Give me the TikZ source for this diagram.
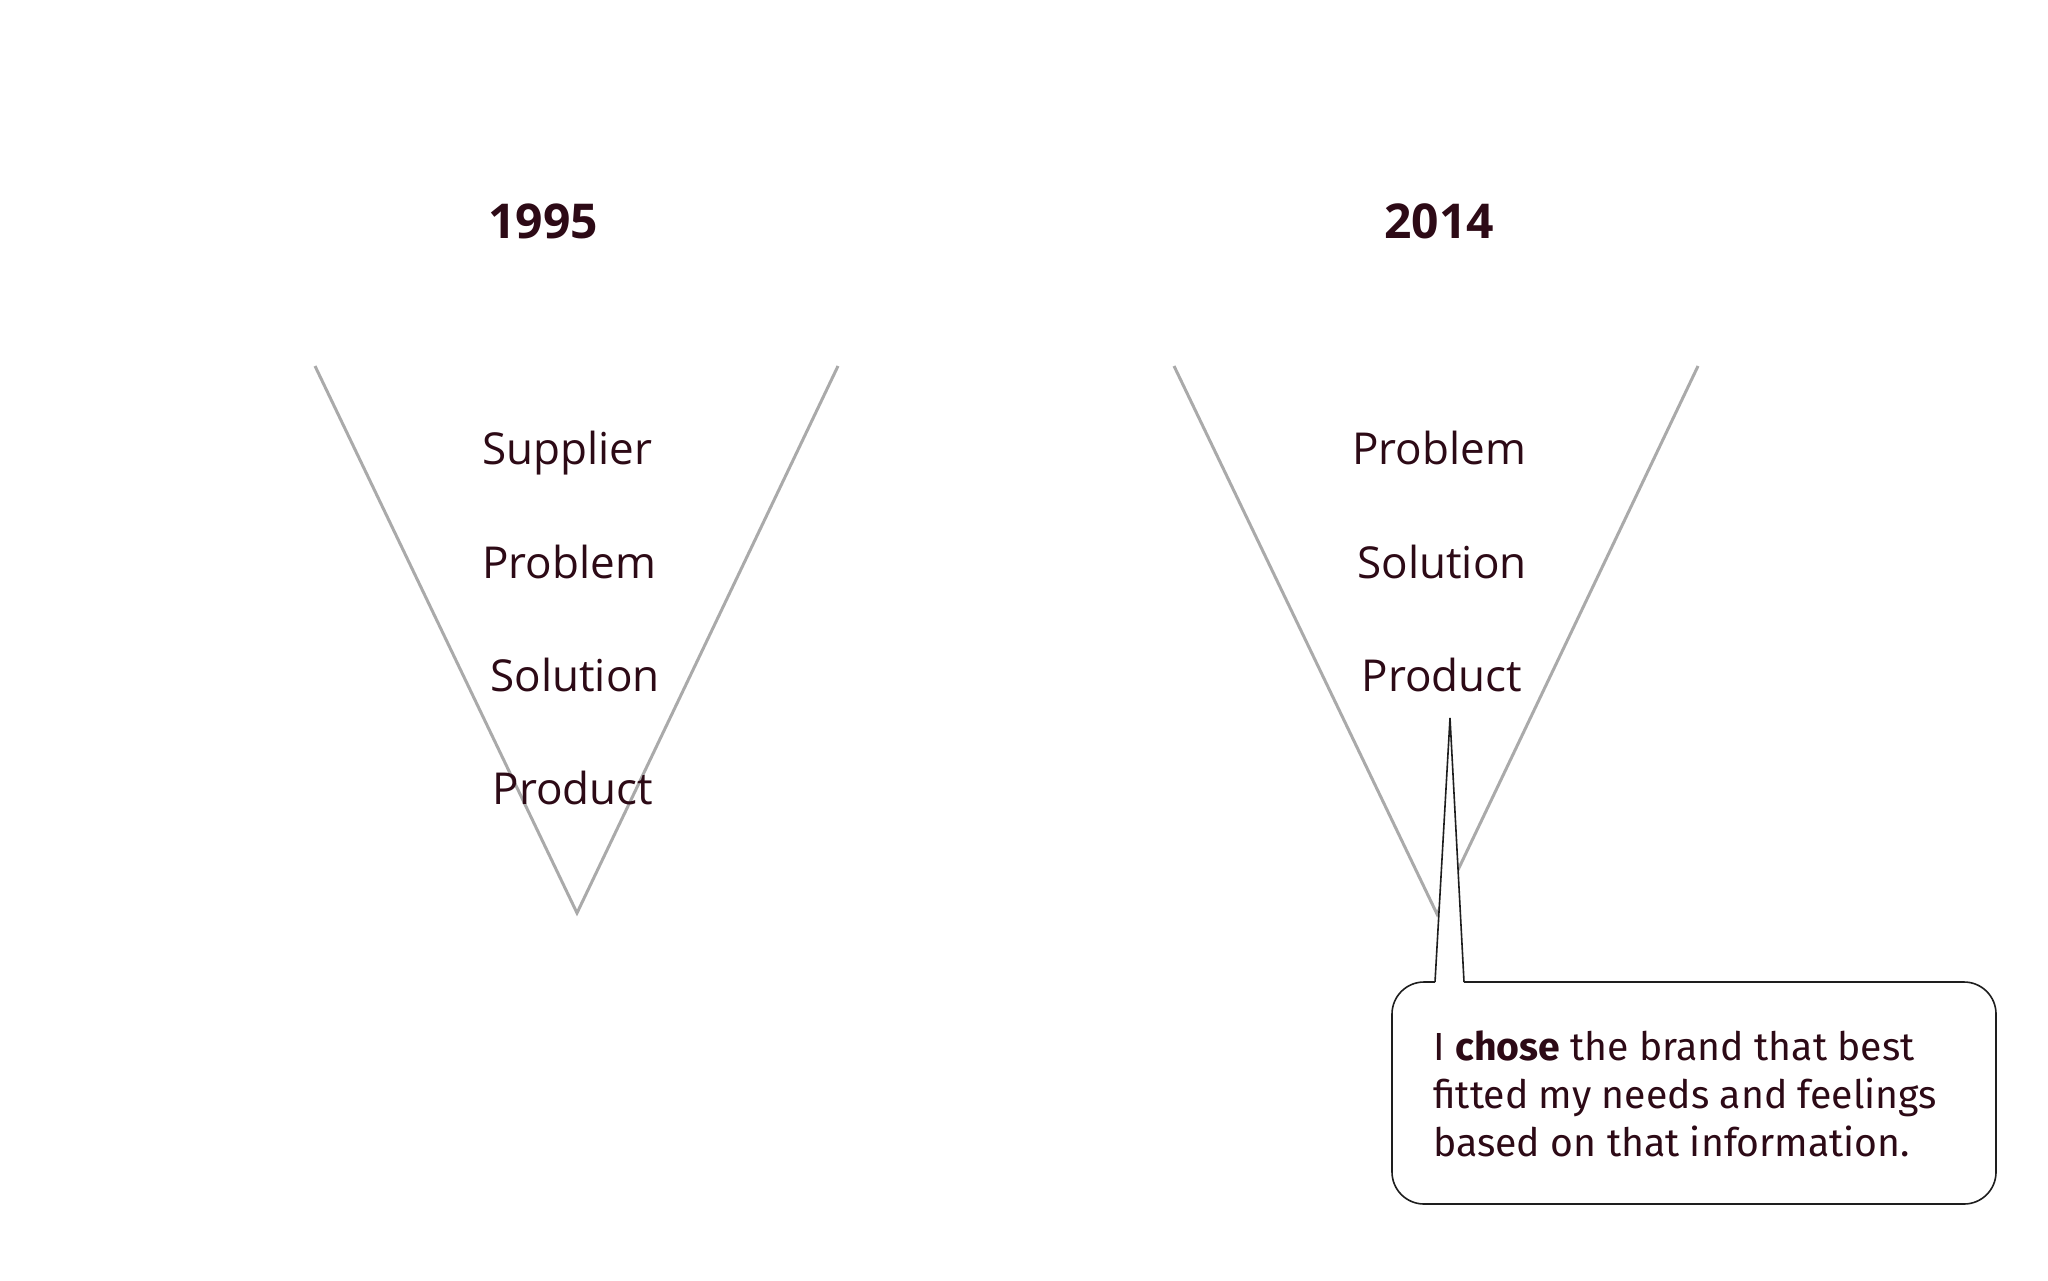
\documentclass[tikz,border=0pt]{standalone}
\usepackage{fontspec}
\setmainfont{Open Sans}
\newfontfamily\callfont{Fira Sans}
\definecolor{ink}{RGB}{45,10,22}
\definecolor{vgrey}{RGB}{170,170,170}
\definecolor{edge}{RGB}{30,30,30}
\begin{document}
\begin{tikzpicture}[x=0.5pt,y=-0.5pt,
  year/.style={font=\fontsize{24}{28}\selectfont\bfseries, text=ink, anchor=base, inner sep=0pt},
  lbl/.style={font=\fontsize{22}{26}\selectfont, text=ink, anchor=base, inner sep=0pt},
  vline/.style={draw=vgrey, line width=1.5pt},
  bubble/.style={draw=edge, fill=white, line width=0.8pt},
  calltext/.style={font=\callfont\fontsize{19.6}{24}\selectfont, text=ink, anchor=base west, align=left, inner sep=0pt}]
\useasboundingbox[fill=white] (0,0) rectangle (2048,1280);

% funnel 1995
\coordinate (aTL) at (315,366);
\coordinate (aTR) at (838,366);
\coordinate (aB) at (577,913);
\draw[vline] (aTL) -- (aB) -- (aTR);
\node[year] (y1995) at (543,238) {1995};
\node[lbl] (aSup) at (567,464) {Supplier};
\node[lbl] (aPro) at (569,578) {Problem};
\node[lbl] (aSol) at (575,691) {Solution};
\node[lbl] (aPrd) at (573,804) {Product};

% funnel 2014
\coordinate (bTL) at (1174,366);
\coordinate (bTR) at (1698,366);
\coordinate (bB) at (1437,914);
\draw[vline] (bTL) -- (bB) -- (bTR);
\node[year] (y2014) at (1439,238) {2014};
\node[lbl] (bPro) at (1439,464) {Problem};
\node[lbl] (bSol) at (1442,578) {Solution};
\node[lbl] (bPrd) at (1442,691) {Product};

% callout
\draw[bubble, rounded corners=16pt] (1392,982) rectangle (1996,1204);
\coordinate (spL) at (1435,982);
\coordinate (spR) at (1464,982);
\coordinate (spT) at (1450,718);
\fill[white] (1435,985) -- (spT) -- (1464,985) -- cycle;
\draw[draw=edge, line width=0.8pt, line join=miter] (spL) -- (spT) -- (spR);
\node[calltext] (note) at (1433,1156) {I \textbf{chose} the brand that best\\fitted my needs and feelings\\based on that information.};
\end{tikzpicture}
\end{document}
